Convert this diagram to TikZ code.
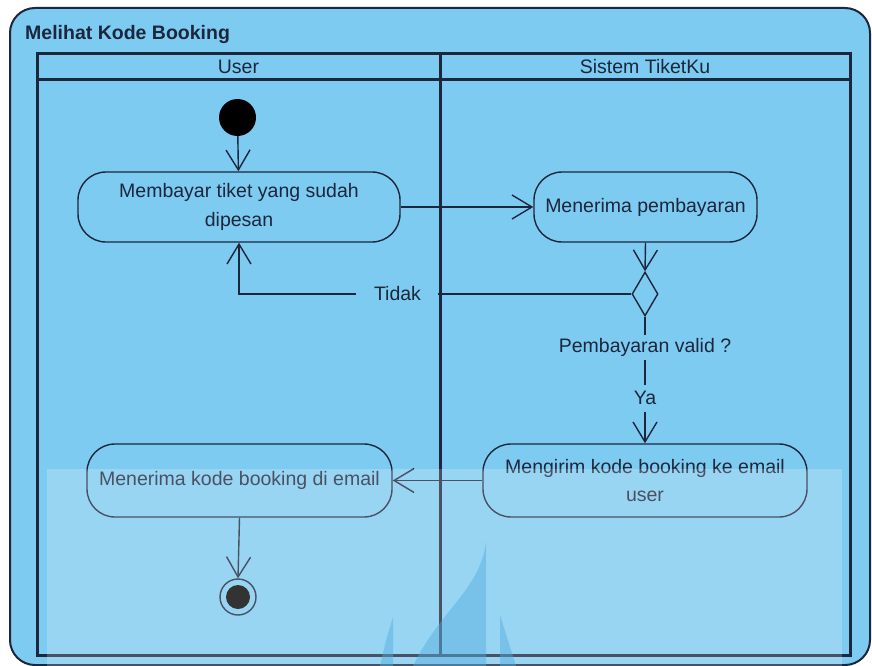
\documentclass[tikz,border=0pt]{standalone}
\usepackage{fontspec}
\setmainfont{Liberation Sans}
\usetikzlibrary{arrows.meta,shapes.geometric}

\definecolor{panel}{RGB}{126,203,241}
\definecolor{ink}{RGB}{28,38,60}
\definecolor{flame}{RGB}{40,150,215}

\tikzset{
  action/.style={draw=ink, line width=1.4pt, rounded corners=28pt, inner sep=0pt,
    align=center, text=ink, font=\fontsize{19.5}{28.5}\selectfont},
  flow/.style={draw=ink, line width=1.4pt, -{Straight Barb[length=20pt,width=24pt,line width=1.4pt]}},
  guard/.style={fill=panel, text=ink, inner xsep=2pt, inner ysep=0pt,
    font=\fontsize{19.5}{24}\selectfont},
  lane/.style={draw=ink, line width=3pt},
}

\begin{document}
\begin{tikzpicture}[x=1pt, y=-1pt]
  \useasboundingbox (0,0) rectangle (872,666);
  \fill[white] (0,0) rectangle (872,666);

  % activity frame
  \draw[ink, line width=2pt, fill=panel, rounded corners=25pt] (10,8) rectangle (870,665);
  \node[anchor=base west, text=ink, font=\fontsize{19.5}{24}\selectfont\bfseries, inner sep=0pt]
    (title) at (25,40) {Melihat Kode Booking};

  % swimlanes
  \draw[lane] (37,54) rectangle (850,655);
  \draw[lane] (37,80) -- (850,80);
  \draw[lane] (440,54) -- (440,655);
  \node[anchor=base, text=ink, font=\fontsize{19.5}{24}\selectfont, inner sep=0pt]
    (laneUser) at (238.5,74) {User};
  \node[anchor=base, text=ink, font=\fontsize{19.5}{24}\selectfont, inner sep=0pt]
    (laneSys) at (645,74) {Sistem TiketKu};

  % nodes
  \node[circle, fill=black, minimum size=37pt, inner sep=0pt] (start) at (237.5,117.5) {};
  \node[action, minimum width=322pt, minimum height=70pt] (bayar) at (239,207)
    {Membayar tiket yang sudah\\dipesan};
  \node[action, minimum width=223pt, minimum height=70pt] (terima) at (645.5,207)
    {Menerima pembayaran};
  \node[diamond, draw=ink, line width=1.4pt, minimum width=26pt, minimum height=44pt,
    inner sep=0pt] (cek) at (645,294) {};
  \node[action, minimum width=324pt, minimum height=73pt] (kirim) at (645,480.5)
    {Mengirim kode booking ke email\\user};
  \node[action, minimum width=305pt, minimum height=73pt] (dapat) at (239.5,480.5)
    {Menerima kode booking di email};
  \node[circle, draw=ink, line width=1.4pt, minimum size=36pt, inner sep=0pt] (stop) at (238,597) {};
  \node[circle, fill=black, minimum size=24pt, inner sep=0pt] (stopdot) at (238,597) {};

  % connectors
  \draw[flow] (start) -- (bayar);
  \draw[flow] (bayar.east) -- (terima.west);
  \draw[flow] (terima.south) -- (cek.north);
  \draw[flow] (cek.west) -| (bayar.south)
    node[guard, pos=0.298, minimum width=82pt, minimum height=22pt] (tidak) {Tidak};
  \draw[flow] (cek.south) -- (kirim.north)
    node[guard, pos=0.246, minimum height=25pt] (valid) {Pembayaran valid ?}
    node[guard, pos=0.645, minimum height=27pt] (ya) {Ya};
  \draw[flow] (kirim.west) -- (dapat.east);
  \draw[flow] (dapat.south) -- (stop.north);

  % watermark
  \fill[flame, opacity=0.45] (486,542) -- (486,666) -- (413,666)
    .. controls (440,610) and (480,590) .. (486,542) -- cycle;
  \fill[flame, opacity=0.45] (393,617) -- (393,666) -- (380,666)
    .. controls (386,640) .. (393,617) -- cycle;
  \fill[flame, opacity=0.45] (500,615) -- (500,666) -- (516,666)
    .. controls (508,640) .. (500,615) -- cycle;
  \fill[white, opacity=0.2] (47,469) rectangle (842,666);
\end{tikzpicture}
\end{document}
